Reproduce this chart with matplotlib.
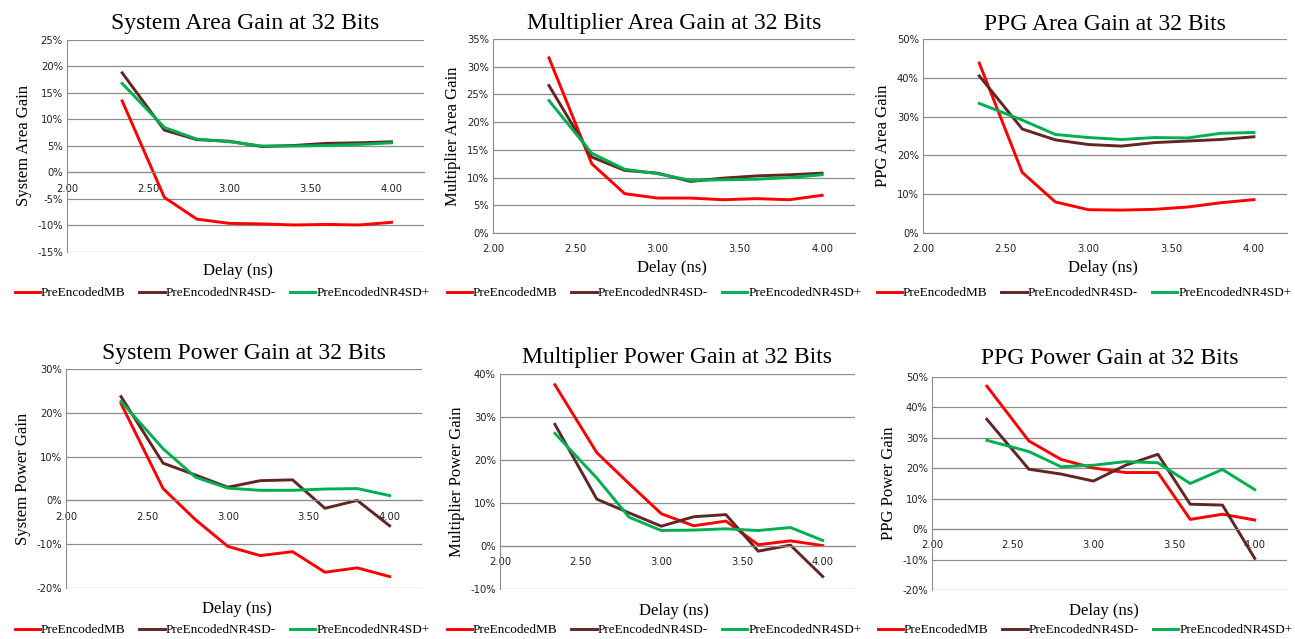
import matplotlib
matplotlib.use('Agg')
import matplotlib.pyplot as plt
from matplotlib.ticker import FuncFormatter

delay = [2.34, 2.6, 2.8, 3.0, 3.2, 3.4, 3.6, 3.8, 4.0]
series_names = ['PreEncodedMB', 'PreEncodedNR4SD-', 'PreEncodedNR4SD+']
colors = ['#FF0000', '#632523', '#00B050']

# values in percent
sys_area_mb = [13.5, -4.7, -8.8, -9.6, -9.7, -9.9, -9.8, -9.9, -9.4]
sys_area_sdm = [18.8, 8.0, 6.2, 5.9, 4.9, 5.1, 5.5, 5.6, 5.8]
sys_area_sdp = [16.8, 8.5, 6.3, 5.8, 5.0, 5.0, 5.1, 5.3, 5.6]

mul_area_mb = [31.6, 12.5, 7.1, 6.3, 6.3, 6.0, 6.2, 6.0, 6.8]
mul_area_sdm = [26.6, 13.7, 11.3, 10.8, 9.3, 9.9, 10.3, 10.5, 10.8]
mul_area_sdp = [23.9, 14.4, 11.5, 10.7, 9.5, 9.6, 9.7, 10.0, 10.5]

ppg_area_mb = [43.8, 15.6, 8.0, 6.0, 5.9, 6.1, 6.7, 7.8, 8.6]
ppg_area_sdm = [40.5, 26.8, 24.0, 22.8, 22.4, 23.3, 23.7, 24.1, 24.8]
ppg_area_sdp = [33.4, 29.1, 25.4, 24.6, 24.1, 24.6, 24.5, 25.7, 25.9]

sys_pow_mb = [22.1, 2.7, -4.4, -10.5, -12.6, -11.7, -16.4, -15.4, -17.4]
sys_pow_sdm = [23.7, 8.5, 5.8, 3.0, 4.5, 4.7, -1.8, 0.0, -5.8]
sys_pow_sdp = [22.6, 11.8, 5.3, 2.8, 2.3, 2.3, 2.6, 2.7, 1.1]

mul_pow_mb = [37.5, 21.7, 14.5, 7.5, 4.7, 5.8, 0.3, 1.2, 0.1]
mul_pow_sdm = [28.3, 10.9, 7.7, 4.6, 6.8, 7.3, -1.2, 0.2, -7.1]
mul_pow_sdp = [26.2, 15.8, 6.7, 3.6, 3.7, 4.0, 3.6, 4.3, 1.3]

ppg_pow_mb = [47.0, 29.0, 22.9, 20.1, 18.6, 18.6, 3.2, 4.9, 3.0]
ppg_pow_sdm = [36.1, 19.7, 18.1, 15.8, 21.0, 24.6, 8.2, 7.9, -9.6]
ppg_pow_sdp = [29.2, 25.5, 20.5, 21.0, 22.2, 21.8, 15.0, 19.6, 13.0]

titles = ['System Area Gain at 32 Bits', 'Multiplier Area Gain at 32 Bits', 'PPG Area Gain at 32 Bits',
          'System Power Gain at 32 Bits', 'Multiplier Power Gain at 32 Bits', 'PPG Power Gain at 32 Bits']
ylabels = ['System Area Gain', 'Multiplier Area Gain', 'PPG Area Gain',
           'System Power Gain', 'Multiplier Power Gain', 'PPG Power Gain']
ylims = [(-15, 25, 5), (0, 35, 5), (0, 50, 10), (-20, 30, 10), (-10, 40, 10), (-20, 50, 10)]
data = [
    [sys_area_mb, sys_area_sdm, sys_area_sdp],
    [mul_area_mb, mul_area_sdm, mul_area_sdp],
    [ppg_area_mb, ppg_area_sdm, ppg_area_sdp],
    [sys_pow_mb, sys_pow_sdm, sys_pow_sdp],
    [mul_pow_mb, mul_pow_sdm, mul_pow_sdp],
    [ppg_pow_mb, ppg_pow_sdm, ppg_pow_sdp],
]

W, H = 1295, 639
# plot area boxes in pixels: x0, x1, ytop, ybottom
boxes = [(67, 424, 40, 252), (493, 855, 39, 233), (923, 1287, 39, 233),
         (66, 422, 369, 588), (500, 855, 374, 589), (932, 1287, 377, 590)]
leg_x = [222, 654, 1084, 222, 654, 1085]
leg_y = [293, 293, 293, 630, 630, 630]
xlab_x = [238, 672, 1103, 237, 674, 1104]
xlab_y = [271, 268, 268, 609, 611, 611]
title_y = [24, 24, 24, 354, 357, 358]

serif = 'Liberation Serif'
fig = plt.figure(figsize=(W / 100, H / 100), dpi=100)

for k in range(6):
    x0, x1, y0, y1 = boxes[k]
    ax = fig.add_axes([x0 / W, 1 - y1 / H, (x1 - x0) / W, (y1 - y0) / H])
    lo, hi, st = ylims[k]
    for s in range(3):
        ax.plot(delay, data[k][s], color=colors[s], lw=2.1, label=series_names[s])
    ax.set_xlim(2.0, 4.2)
    ax.set_ylim(lo, hi)
    ax.set_xticks([2.0, 2.5, 3.0, 3.5, 4.0])
    ax.xaxis.set_major_formatter(FuncFormatter(lambda v, p: '%.2f' % v))
    ax.set_yticks(range(lo, hi + 1, st))
    ax.yaxis.set_major_formatter(FuncFormatter(lambda v, p: '%d%%' % v))
    ax.grid(axis='y', color='#8c8c8c', lw=0.9)
    ax.set_axisbelow(True)
    for sp in ['top', 'right']:
        ax.spines[sp].set_visible(False)
    ax.spines['left'].set_color('#8c8c8c')
    ax.spines['bottom'].set_color('#8c8c8c')
    ax.spines['bottom'].set_position(('data', 0))
    ax.tick_params(axis='both', length=0, labelsize=7.2, colors='#222222', pad=3)
    ax.tick_params(axis='x', pad=8)
    fig.text((x0 + x1) / 2 / W, 1 - title_y[k] / H, titles[k], family=serif,
             fontsize=17, ha='center', va='center')
    ax.set_ylabel(ylabels[k], family=serif, fontsize=12, labelpad=4)
    fig.text(xlab_x[k] / W, 1 - xlab_y[k] / H, 'Delay (ns)', family=serif,
             fontsize=12, ha='center', va='center')
    ax.legend(loc='center', bbox_to_anchor=(leg_x[k] / W, 1 - leg_y[k] / H),
              bbox_transform=fig.transFigure, ncol=3, frameon=False,
              handlelength=1.9, handletextpad=0.1, columnspacing=1.05,
              borderpad=0, prop={'family': serif, 'size': 9.5})

fig.savefig('out.png', dpi=100)
